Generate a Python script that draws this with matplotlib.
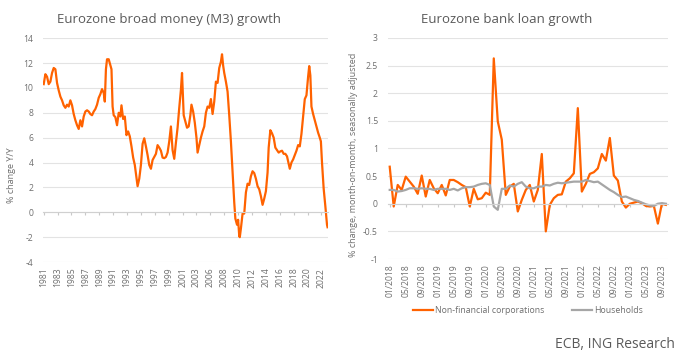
import matplotlib
matplotlib.use("Agg")
import matplotlib.pyplot as plt
import pandas as pd

plt.rcParams["font.family"] = ["Open Sans", "DejaVu Sans"]

ORANGE = "#FF6200"
GREY = "#A6A6A6"
TXT = "#6E6E6E"
GRID = "#E3E3E3"

# M3 growth, % y/y -- months counted from Jan 1981
m3_month = [0, 3, 6, 9, 12, 15, 18, 21, 24, 27, 30, 33, 36, 39, 42, 45, 48, 51, 54, 57,
            60, 63, 66, 69, 72, 75, 78, 81, 84, 87, 90, 93, 96, 99, 102, 105, 108, 110, 112, 114,
            117, 120, 122, 124, 126, 129, 132, 135, 138, 140, 143, 146, 149, 152, 155, 158, 161, 164, 167, 169,
            172, 175, 178, 181, 184, 187, 190, 193, 196, 199, 202, 205, 208, 211, 214, 217, 220, 223, 226, 229,
            232, 235, 238, 241, 244, 247, 249, 252, 255, 258, 261, 264, 266, 269, 272, 275, 277, 280, 283, 286,
            289, 292, 295, 298, 301, 304, 307, 310, 313, 316, 319, 321, 323, 325, 328, 331, 334, 337, 340, 343,
            345, 348, 350, 352, 353, 355, 358, 361, 364, 367, 370, 373, 376, 379, 382, 385, 388, 391, 394, 397,
            400, 403, 405, 408, 411, 414, 417, 420, 423, 426, 429, 432, 435, 438, 441, 443, 446, 449, 452, 455,
            458, 461, 464, 467, 470, 473, 476, 478, 480, 482, 485, 488, 491, 494, 497, 499, 501, 504, 507, 510, 511]
m3_value = [10.3, 11.1, 10.9, 10.3, 10.5, 11.2, 11.6, 11.5, 10.4, 9.8, 9.3, 9.0, 8.6, 8.4, 8.65, 8.5, 9.0, 8.6, 7.9, 7.4,
            7.0, 6.7, 7.4, 6.9, 7.7, 8.1, 8.2, 8.1, 7.9, 7.8, 8.1, 8.3, 8.65, 9.2, 9.5, 9.9, 9.6, 8.9, 11.5, 12.3,
            12.3, 11.8, 11.5, 8.5, 7.8, 7.65, 7.0, 8.0, 7.7, 8.6, 7.5, 7.7, 6.2, 6.5, 6.1, 5.3, 4.4, 3.8, 2.8, 2.1,
            2.7, 3.8, 5.5, 5.95, 5.3, 4.6, 3.8, 3.5, 4.2, 4.45, 4.7, 5.4, 5.2, 4.95, 4.4, 4.35, 4.45, 4.8, 5.7, 6.9,
            5.0, 4.3, 5.6, 6.8, 8.4, 9.85, 11.2, 7.8, 7.3, 6.8, 6.9, 7.8, 8.65, 8.1, 7.2, 6.0, 4.8, 5.4, 6.0, 6.5,
            6.9, 8.0, 8.5, 8.4, 9.1, 7.9, 8.9, 10.5, 10.4, 11.6, 12.1, 12.7, 11.8, 11.2, 10.5, 9.7, 7.8, 5.7, 3.2, 0.8,
            -0.5, -1.0, -0.6, -1.9, -2.0, -1.3, -0.1, -0.1, 1.6, 2.3, 2.2, 2.9, 3.3, 3.15, 2.7, 2.1, 1.85, 1.3, 0.6, 1.1,
            1.7, 3.2, 5.2, 6.6, 6.35, 6.0, 5.2, 5.0, 4.8, 4.9, 4.95, 4.7, 4.7, 4.5, 3.9, 3.5, 4.0, 4.25, 4.6, 4.95,
            5.4, 5.3, 6.3, 7.7, 9.1, 9.4, 10.9, 11.75, 11.0, 8.5, 7.9, 7.4, 6.9, 6.4, 6.0, 5.7, 4.0, 1.9, 0.5, -1.0, -1.2]
m3_ticklabels = ["1981", "1983", "1985", "1987", "1989", "1991", "1993", "1995", "1997", "1999", "2001",
                 "2003", "2006", "2008", "2010", "2012", "2014", "2016", "2018", "2020", "2022"]

# bank loans, % m/m sa, Jan 2018 - Oct 2023
loan_months = pd.date_range("2018-01-01", periods=70, freq="MS")
nfc = [0.67, -0.05, 0.34, 0.25, 0.49, 0.40, 0.31, 0.18, 0.51, 0.13, 0.43, 0.28, 0.19, 0.34, 0.15, 0.43, 0.43, 0.39,
       0.34, 0.30, -0.05, 0.27, 0.08, 0.10, 0.20, 0.16, 2.63, 1.49, 1.16, 0.16, 0.31, 0.36, -0.14, 0.07, 0.25, 0.34,
       0.04, 0.25, 0.90, -0.50, -0.02, 0.10, 0.16, 0.17, 0.40, 0.46, 0.55, 1.73, 0.22, 0.36, 0.54, 0.57, 0.64, 0.90,
       0.78, 1.19, 0.51, 0.42, 0.04, -0.07, 0.00, 0.02, 0.04, 0.01, -0.04, -0.05, -0.04, -0.36, 0.00, -0.02]
households = [0.25, 0.25, 0.22, 0.23, 0.25, 0.28, 0.28, 0.27, 0.28, 0.27, 0.27, 0.25, 0.27, 0.27, 0.27, 0.25, 0.27, 0.24,
              0.28, 0.30, 0.30, 0.31, 0.34, 0.36, 0.37, 0.34, -0.05, -0.11, 0.27, 0.27, 0.33, 0.31, 0.36, 0.39, 0.31, 0.28,
              0.28, 0.31, 0.31, 0.34, 0.33, 0.36, 0.38, 0.37, 0.38, 0.39, 0.40, 0.40, 0.40, 0.43, 0.41, 0.39, 0.40, 0.35,
              0.30, 0.25, 0.21, 0.16, 0.12, 0.13, 0.10, 0.07, 0.05, 0.02, -0.01, -0.03, -0.04, 0.00, 0.01, 0.00]


def style_axes(ax, yticks, yfmt):
    ax.set_yticks(yticks)
    ax.set_yticklabels([yfmt(v) for v in yticks])
    ax.set_ylim(yticks[0], yticks[-1])
    ax.grid(axis="y", color=GRID, lw=0.8)
    ax.set_axisbelow(True)
    for s in ["top", "right", "left"]:
        ax.spines[s].set_visible(False)
    # axis line crosses at zero with small tick marks, labels sit at the bottom
    ax.spines["bottom"].set_position(("data", 0))
    ax.spines["bottom"].set_color("#D0D0D0")
    ax.spines["bottom"].set_linewidth(0.8)
    ax.tick_params(axis="x", direction="out", length=2, color="#C8C8C8", labelbottom=False)
    ax.tick_params(axis="y", length=0, labelsize=6.2, labelcolor=TXT, pad=7)


fig = plt.figure(figsize=(6.85, 3.63), dpi=100)

# ---- left: M3
ax1 = fig.add_axes([0.063, 0.278, 0.416, 0.617])
ax1.plot(m3_month, m3_value, color=ORANGE, lw=1.6, solid_joinstyle="round")
ax1.set_xlim(-1, 512)
style_axes(ax1, list(range(-4, 15, 2)), lambda v: str(v))
pos1 = [i * 25 for i in range(len(m3_ticklabels))]
ax1.set_xticks(pos1)
sec1 = ax1.secondary_xaxis("bottom")
sec1.set_xticks(pos1)
sec1.set_xticklabels(m3_ticklabels, rotation=90)
sec1.tick_params(length=0, labelsize=6.2, labelcolor=TXT, pad=4)
sec1.spines["bottom"].set_visible(False)
ax1.set_ylabel("% change Y/Y", fontsize=6.5, color=TXT)
ax1.yaxis.set_label_coords(-0.095, 0.39)

# ---- right: loans
ax2 = fig.add_axes([0.566, 0.2865, 0.409, 0.609])
x2 = list(range(len(loan_months)))
ax2.plot(x2, nfc, color=ORANGE, lw=1.6, label="Non-financial corporations")
ax2.plot(x2, households, color=GREY, lw=1.6, label="Households")
ax2.set_xlim(-0.5, len(loan_months) - 0.5)
yt2 = [-1, -0.5, 0, 0.5, 1, 1.5, 2, 2.5, 3]
style_axes(ax2, yt2, lambda v: f"{v:g}")
pos2 = x2[::4]
ax2.set_xticks(pos2)
sec2 = ax2.secondary_xaxis("bottom")
sec2.set_xticks(pos2)
sec2.set_xticklabels([loan_months[i].strftime("%m/%Y") for i in pos2], rotation=90)
sec2.tick_params(length=0, labelsize=6.2, labelcolor=TXT, pad=4)
sec2.spines["bottom"].set_visible(False)
ax2.set_ylabel("% change, month-on-month, seasonally adjusted", fontsize=6.5, color=TXT)
ax2.yaxis.set_label_coords(-0.105, 0.47)

leg = ax2.legend(loc="center", bbox_to_anchor=(0.5, -0.235), ncol=2, frameon=False,
                 fontsize=6.3, handlelength=2.3, handletextpad=0.2, columnspacing=3.2)
for t in leg.get_texts():
    t.set_color(TXT)

fig.text(169 / 685, 1 - 19 / 363, "Eurozone broad money (M3) growth", ha="center", va="center",
         fontsize=9.5, color="#5A5A5A")
fig.text(507 / 685, 1 - 19 / 363, "Eurozone bank loan growth", ha="center", va="center",
         fontsize=9.5, color="#5A5A5A")
fig.text(675 / 685, 1 - 345 / 363, "ECB, ING Research", ha="right", va="center",
         fontsize=10, color="#5A5A5A")

fig.savefig("out.png", dpi=100)
